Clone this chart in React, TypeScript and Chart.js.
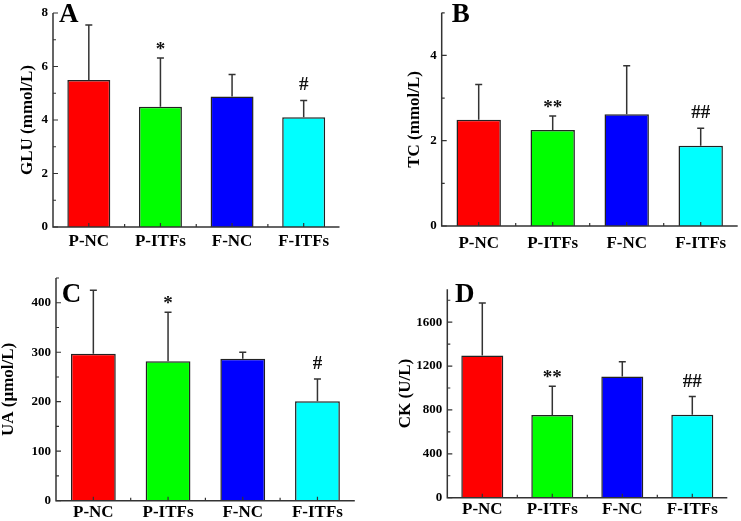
import React, { useEffect, useRef } from 'react';
import { Chart, registerables } from 'chart.js';

Chart.register(...registerables);

// ---------- data ----------
const categories = ['P-NC', 'P-ITFs', 'F-NC', 'F-ITFs'];
const barColors = ['#ff0000', '#00ff00', '#0000ff', '#00ffff'];

const gluMean = [5.5, 4.5, 4.88, 4.1];
const gluSD = [2.05, 1.82, 0.82, 0.63];
const gluMarks = ['', '*', '', '#'];
const gluMajorTicks = [0, 2, 4, 6, 8];
const gluMinorTicks = [1, 3, 5, 7];

const tcMean = [2.49, 2.25, 2.62, 1.88];
const tcSD = [0.83, 0.33, 1.14, 0.41];
const tcMarks = ['', '**', '', '##'];
const tcMajorTicks = [0, 2, 4];
const tcMinorTicks = [1, 3, 5];

const uaMean = [297, 282, 287, 201];
const uaSD = [128, 99, 13, 45];
const uaMarks = ['', '*', '', '#'];
const uaMajorTicks = [0, 100, 200, 300, 400];
const uaMinorTicks = [50, 150, 250, 350, 450];

const ckMean = [1297, 755, 1106, 756];
const ckSD = [479, 260, 134, 166];
const ckMarks = ['', '**', '', '##'];
const ckMajorTicks = [0, 400, 800, 1200, 1600];
const ckMinorTicks = [200, 600, 1000, 1400, 1800];

const FONT = '"Liberation Serif", "Times New Roman", serif';

type PanelSpec = {
  letter: string;
  title: string;
  mean: number[];
  sd: number[];
  marks: string[];
  major: number[];
  minor: number[];
  yMax: number;
  box: { left: number; top: number; w: number; h: number };
  yWidth: number;
  padRight: number;
  padTop: number;
  xHeight: number;
  titlePad: number;
  xTickPad: number;
  letterPos: [number, number];
};

const panels: PanelSpec[] = [
  {
    letter: 'A', title: 'GLU (mmol/L)', mean: gluMean, sd: gluSD, marks: gluMarks,
    major: gluMajorTicks, minor: gluMinorTicks, yMax: 8,
    box: { left: 0, top: 0, w: 370, h: 260 },
    yWidth: 53, padRight: 30.5, padTop: 13, xHeight: 33, titlePad: 17.8, xTickPad: 4,
    letterPos: [59, 22],
  },
  {
    letter: 'B', title: 'TC (mmol/L)', mean: tcMean, sd: tcSD, marks: tcMarks,
    major: tcMajorTicks, minor: tcMinorTicks, yMax: 5,
    box: { left: 370, top: 0, w: 371, h: 260 },
    yWidth: 71.7, padRight: 3.3, padTop: 5, xHeight: 34, titlePad: 34.8, xTickPad: 7,
    letterPos: [81.7, 22],
  },
  {
    letter: 'C', title: 'UA (\u03bcmol/L)', mean: uaMean, sd: uaSD, marks: uaMarks,
    major: uaMajorTicks, minor: uaMinorTicks, yMax: 450,
    box: { left: 0, top: 260, w: 370, h: 261 },
    yWidth: 56, padRight: 15.2, padTop: 18, xHeight: 20.3, titlePad: -1.2, xTickPad: 2,
    letterPos: [61.7, 42],
  },
  {
    letter: 'D', title: 'CK (U/L)', mean: ckMean, sd: ckSD, marks: ckMarks,
    major: ckMajorTicks, minor: ckMinorTicks, yMax: 1900,
    box: { left: 370, top: 260, w: 371, h: 261 },
    yWidth: 77.3, padRight: 13.7, padTop: 29.3, xHeight: 23.3, titlePad: 25.3, xTickPad: 2,
    letterPos: [85, 42],
  },
];

function decorPlugin(spec: PanelSpec) {
  return {
    id: 'decor' + spec.letter,
    afterDatasetsDraw(chart: any) {
      const ctx: CanvasRenderingContext2D = chart.ctx;
      const { left, right, top, bottom } = chart.chartArea;
      const ys = chart.scales.y;
      const xs = chart.scales.x;
      const meta = chart.getDatasetMeta(0);
      ctx.save();
      // error bars + significance marks
      ctx.strokeStyle = '#333';
      ctx.lineWidth = 1.5;
      spec.mean.forEach((m, i) => {
        const bx = meta.data[i].x;
        const y0 = ys.getPixelForValue(m);
        const y1 = ys.getPixelForValue(m + spec.sd[i]);
        ctx.beginPath();
        ctx.moveTo(bx, y0);
        ctx.lineTo(bx, y1);
        ctx.moveTo(bx - 3.5, y1);
        ctx.lineTo(bx + 3.5, y1);
        ctx.stroke();
        const mk = spec.marks[i];
        if (mk) {
          ctx.fillStyle = '#111';
          ctx.font = `bold 19px ${FONT}`;
          ctx.textAlign = 'center';
          ctx.textBaseline = 'alphabetic';
          const off = mk.startsWith('*') ? 3 : 10;
          ctx.fillText(mk, bx, y1 - off);
        }
      });
      // axes
      ctx.strokeStyle = '#333';
      ctx.lineWidth = 1.5;
      ctx.beginPath();
      ctx.moveTo(left, top);
      ctx.lineTo(left, bottom);
      ctx.lineTo(right, bottom);
      ctx.stroke();
      // inward y ticks
      ctx.lineWidth = 1.2;
      ctx.beginPath();
      spec.major.forEach((v) => {
        const p = ys.getPixelForValue(v);
        ctx.moveTo(left, p);
        ctx.lineTo(left + 5, p);
      });
      spec.minor.forEach((v) => {
        const p = ys.getPixelForValue(v);
        ctx.moveTo(left, p);
        ctx.lineTo(left + 3, p);
      });
      // inward x ticks (centers and boundaries)
      const n = categories.length;
      for (let i = 0; i < n; i++) {
        const c = xs.getPixelForValue(i);
        ctx.moveTo(c, bottom);
        ctx.lineTo(c, bottom - 4);
      }
      const step = (right - left) / n;
      for (let i = 1; i < n; i++) {
        const b = left + step * i;
        ctx.moveTo(b, bottom);
        ctx.lineTo(b, bottom - 3);
      }
      ctx.stroke();
      // panel letter
      ctx.fillStyle = '#000';
      ctx.font = `bold 27px ${FONT}`;
      ctx.textAlign = 'left';
      ctx.textBaseline = 'alphabetic';
      ctx.fillText(spec.letter, spec.letterPos[0], spec.letterPos[1]);
      ctx.restore();
    },
  };
}

function Panel({ spec }: { spec: PanelSpec }) {
  const ref = useRef<HTMLCanvasElement | null>(null);
  useEffect(() => {
    if (!ref.current) return;
    const chart = new Chart(ref.current, {
      type: 'bar',
      data: {
        labels: categories,
        datasets: [
          {
            data: spec.mean,
            backgroundColor: barColors,
            borderColor: '#222',
            borderWidth: 1.5,
            barPercentage: 0.6,
            categoryPercentage: 1,
          },
        ],
      },
      options: {
        animation: false,
        responsive: false,
        devicePixelRatio: 1,
        layout: { padding: { left: 0, right: spec.padRight, top: spec.padTop, bottom: 0 } },
        plugins: { legend: { display: false }, tooltip: { enabled: false } },
        scales: {
          x: {
            type: 'category',
            grid: { display: false, drawTicks: false },
            border: { display: false },
            ticks: {
              color: '#000',
              font: { family: FONT, size: 17, weight: 'bold' },
              padding: spec.xTickPad,
              maxRotation: 0,
              autoSkip: false,
            },
            afterFit: (s: any) => { s.height = spec.xHeight; },
          },
          y: {
            min: 0,
            max: spec.yMax,
            grid: { display: false, drawTicks: false },
            border: { display: false },
            afterBuildTicks: (s: any) => { s.ticks = spec.major.map((v) => ({ value: v })); },
            ticks: {
              color: '#000',
              font: { family: FONT, size: 13, weight: 'bold' },
              padding: 5,
              callback: (v: any) => String(v),
            },
            title: {
              display: true,
              text: spec.title,
              color: '#000',
              font: { family: FONT, size: 17, weight: 'bold' },
              padding: { top: spec.titlePad, bottom: 0 },
            },
            afterFit: (s: any) => { s.width = spec.yWidth; },
          },
        },
      } as any,
      plugins: [decorPlugin(spec)],
    });
    return () => chart.destroy();
  }, [spec]);
  return (
    <div style={{ position: 'absolute', left: spec.box.left, top: spec.box.top, width: spec.box.w, height: spec.box.h }}>
      <canvas ref={ref} width={spec.box.w} height={spec.box.h} style={{ width: spec.box.w, height: spec.box.h, display: 'block' }} />
    </div>
  );
}

export default function App() {
  return (
    <div style={{ position: 'absolute', left: 0, top: 0, width: 741, height: 521, background: '#fff', overflow: 'hidden' }}>
      {panels.map((p) => (
        <Panel key={p.letter} spec={p} />
      ))}
    </div>
  );
}
